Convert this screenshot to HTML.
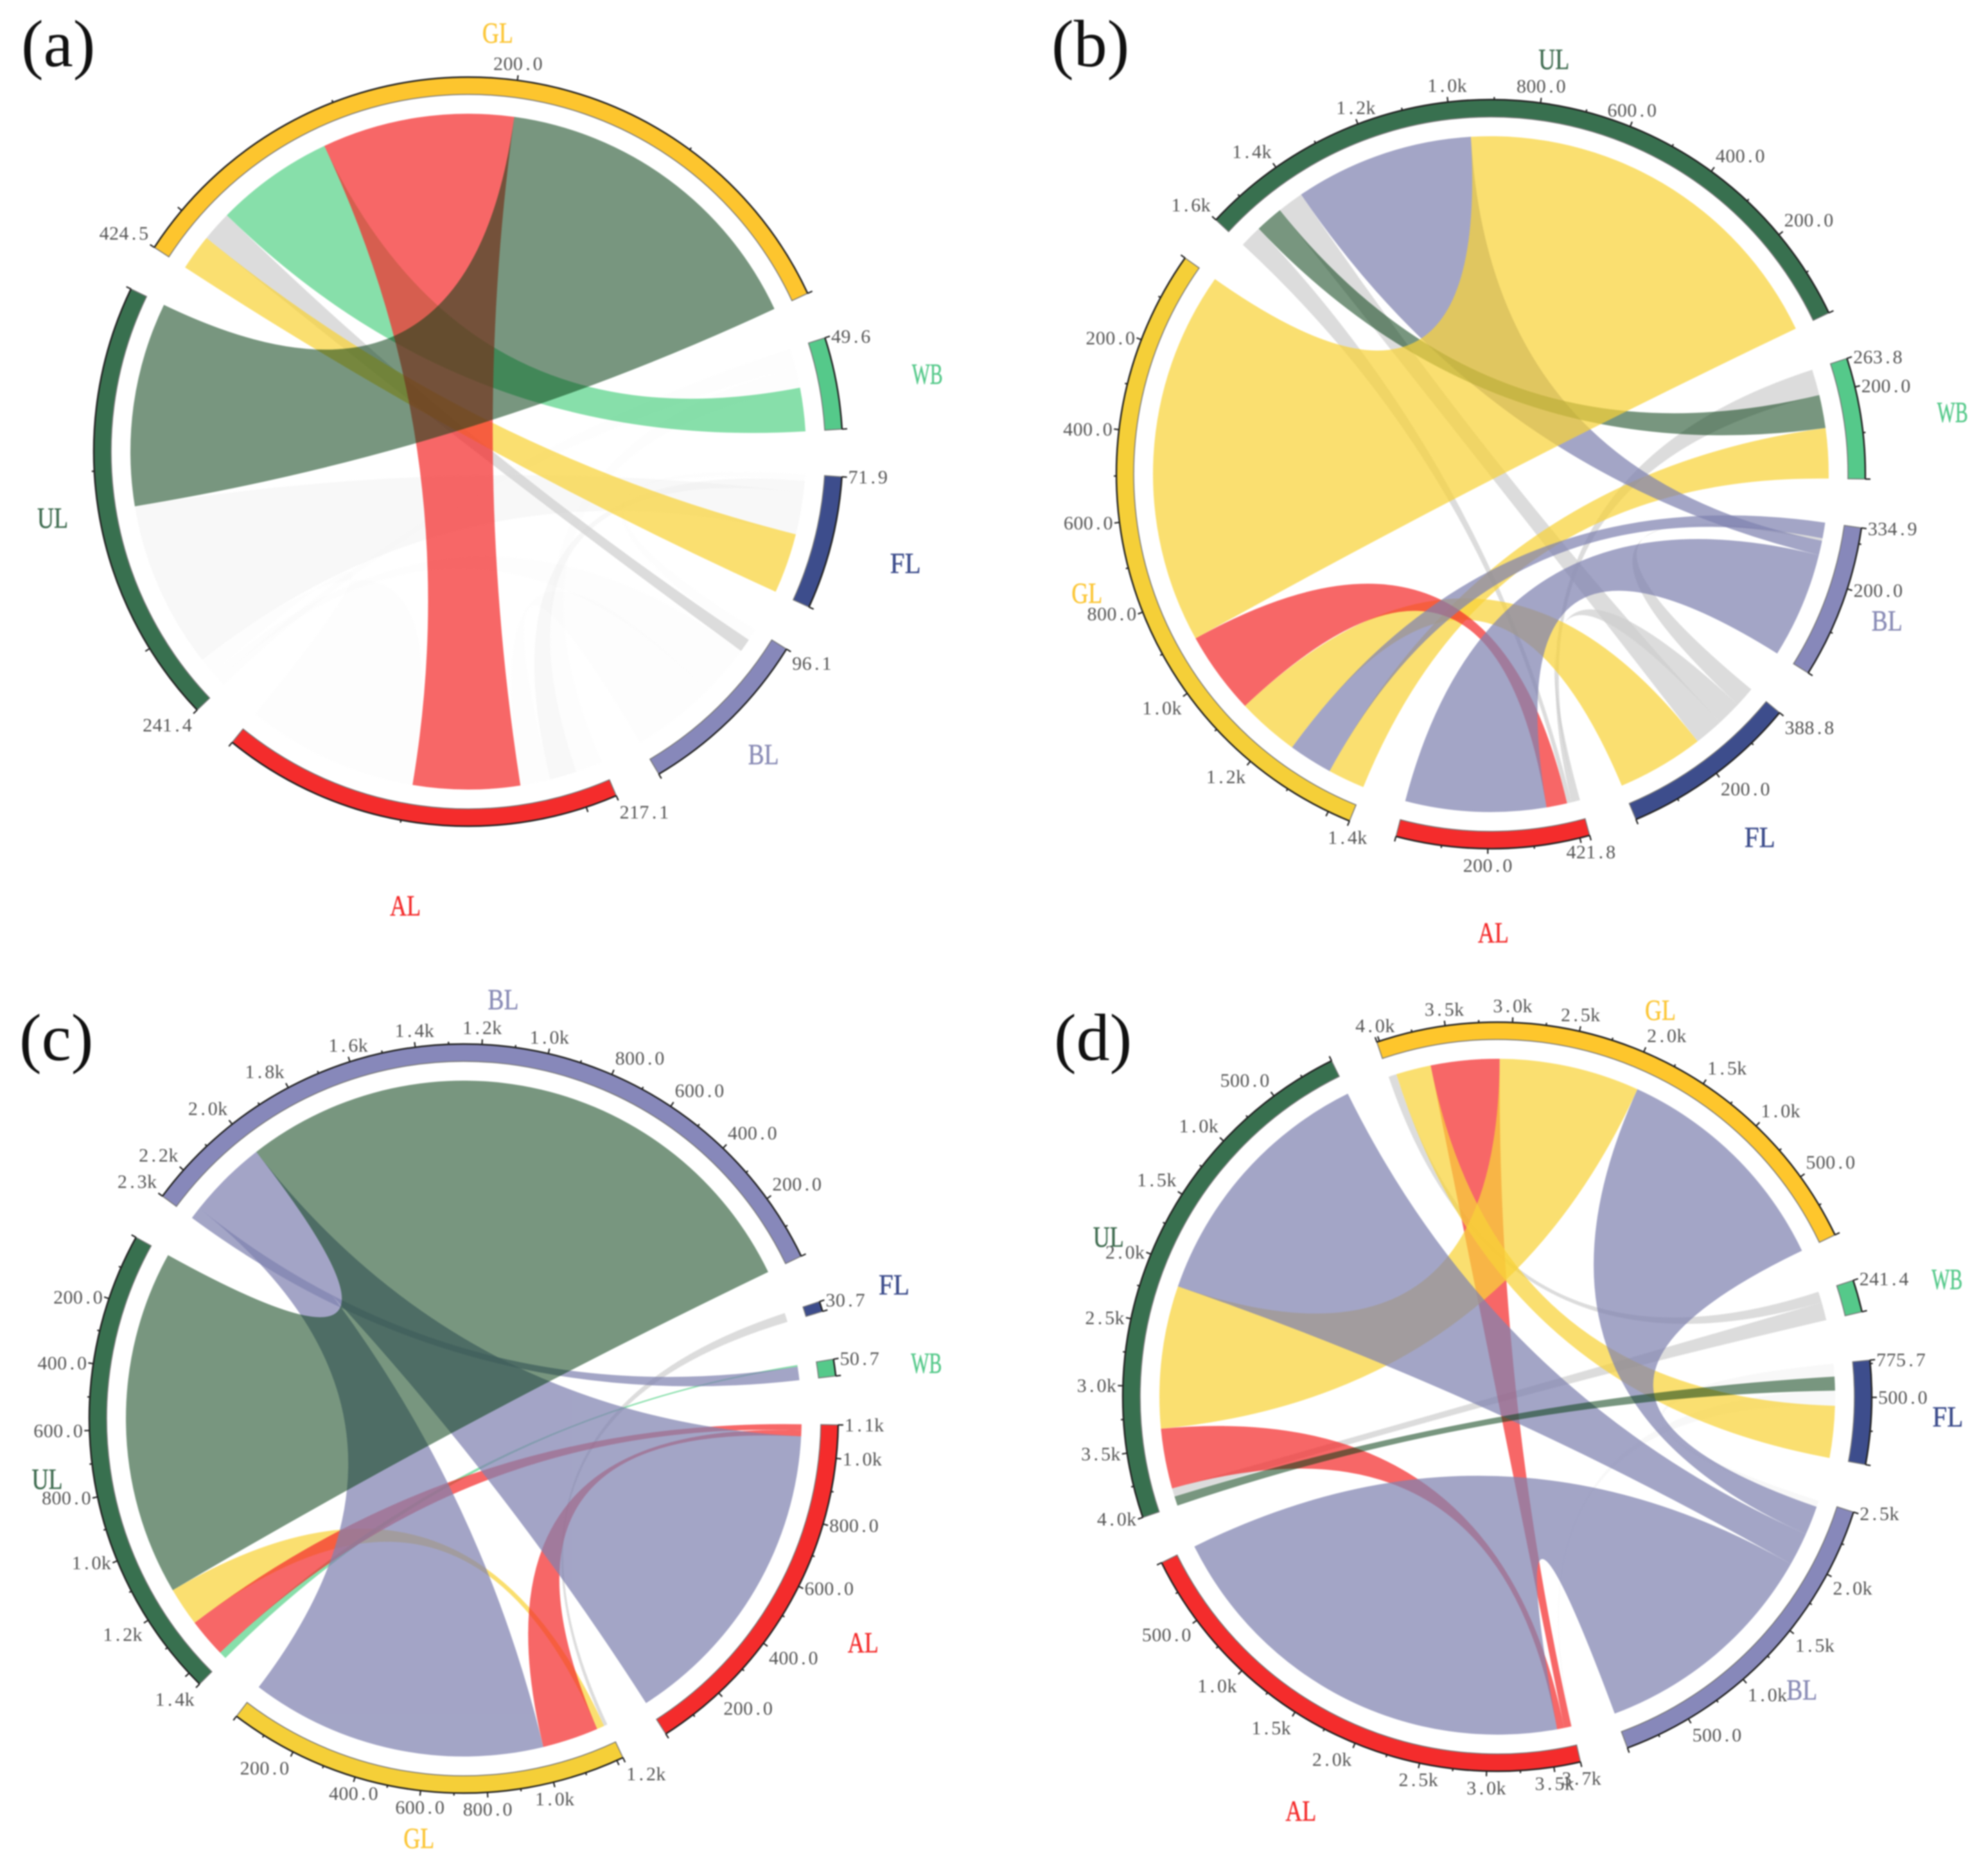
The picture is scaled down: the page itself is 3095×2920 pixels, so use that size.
<!DOCTYPE html>
<html lang="en">
<head>
<meta charset="utf-8">
<title>Chord diagrams of land-use transitions</title>
<style>
html,body{margin:0;padding:0;background:#fff;width:3095px;height:2920px;overflow:hidden}
svg{display:block;filter:blur(1px)}
text{font-family:"Liberation Serif","Noto Serif CJK SC",serif}
</style>
</head>
<body>
<svg id="figure" xmlns="http://www.w3.org/2000/svg" width="3095" height="2920" viewBox="0 0 3095 2920"></svg>
<script>
// ---------- Panel (a) data ----------
const aSectors = ['GL','UL','AL','BL','FL','WB'];
const aTotals = [424.5,241.4,217.1,96.1,71.9,49.6];
const aLinks = {
  GL:[['UL',199],['AL',115],['WB',71],['BL',18],['FL',21.5]],
  UL:[['GL',122],['FL',100],['AL',10],['BL',5],['WB',4.4]],
  AL:[['UL',103],['GL',64],['BL',18],['FL',16],['WB',16.1]],
  BL:[['AL',50],['UL',31],['GL',8],['FL',7.1]],
  FL:[['GL',36],['UL',25],['AL',7],['BL',3.9]],
  WB:[['GL',26],['AL',12],['UL',11.6]]
};
const aRibbonColors = {'UL-FL':'faint','UL-AL':'ghost','UL-BL':'ghost','UL-WB':'ghost','AL-BL':'ghost','AL-FL':'faint','AL-WB':'ghost','BL-FL':'ghost','GL-BL':'gray','GL-WB':'WB','GL-FL':'GL','GL-AL':'AL','GL-UL':'UL'};

// ---------- Panel (b) data ----------
const bSectors = ['UL','GL','AL','FL','BL','WB'];
const bTotals = [1572,1450,421.8,388.8,334.9,263.8];
const bLinks = {
  UL:[['GL',955],['BL',433],['FL',63],['WB',67],['AL',54]],
  GL:[['UL',905],['AL',200],['FL',150],['BL',106],['WB',89]],
  AL:[['BL',340],['GL',50],['UL',11],['WB',12],['FL',8.8]],
  FL:[['GL',210],['UL',70],['AL',60],['BL',48.8]],
  BL:[['AL',256],['UL',35],['FL',6],['GL',37.9]],
  WB:[['GL',121],['UL',80],['AL',62.8]]
};
const bRibbonColors = {'UL-FL':'gray','UL-AL':'gray','AL-WB':'gray','AL-FL':'gray','FL-BL':'gray','GL-FL':'GL','GL-WB':'GL','GL-AL':'AL','AL-BL':'BL','GL-BL':'BL','UL-BL':'BL','UL-WB':'UL','GL-UL':'GL'};

// ---------- Panel (c) data ----------
const cSectors = ['BL','UL','GL','AL','WB','FL'];
const cTotals = [2300,1445,1220,1100,50.7,30.7];
const cLinks = {
  BL:[['UL',1994],['AL',150],['overlap',-34],['GL',150],['WB',40]],
  UL:[['BL',1160],['GL',130],['AL',130],['WB',25]],
  GL:[['BL',995],['AL',188],['UL',25],['FL',12]],
  AL:[['BL',1060],['GL',20],['UL',20]],
  WB:[['BL',45],['UL',5.7]],
  FL:[['GL',30.7]]
};
const cRibbonColors = {'GL-FL':'gray','UL-GL':'GL','UL-WB':'WB','GL-AL':'AL','UL-AL':'AL','BL-GL':'BL','BL-AL':'BL','BL-WB':'BL','BL-UL':'UL'};
const cMergedRibbons = ['BL-GL','BL-AL'];

// ---------- Panel (d) data ----------
const dSectors = ['GL','UL','AL','BL','FL','WB'];
const dTotals = [4020,3990,3700,2500,775.7,241.4];
const dLinks = {
  GL:[['BL',1928],['UL',1165],['AL',570],['FL',290],['WB',67]],
  UL:[['BL',2160],['GL',1184],['AL',498],['WB',70],['FL',78]],
  AL:[['BL',3572],['UL',60],['GL',60],['FL',8]],
  BL:[['AL',1933],['UL',275],['GL',240],['FL',52]],
  FL:[['GL',430],['AL',125],['UL',115],['BL',105.7]],
  WB:[['UL',150],['GL',91.4]]
};
const dRibbonColors = {'GL-WB':'gray','UL-WB':'gray','AL-FL':'faint','BL-FL':'faint','UL-AL':'AL','GL-AL':'AL','GL-UL':'GL','GL-FL':'GL','AL-BL':'BL','GL-BL':'BL','UL-BL':'BL','UL-FL':'UL'};

// ---------- Styling and layout configuration ----------
const ringColor = {GL:'#f8cd35',UL:'#38704f',AL:'#f42c2c',BL:'#8788ba',FL:'#3d4d8c',WB:'#55c98a'};
const labelColor = {GL:'#fcc636',UL:'#3e6b4f',AL:'#f42c2c',BL:'#8a8cb6',FL:'#3d4d8c',WB:'#55c98a'};
const ribbonFill = {
  GL:['#f8d339',0.72],UL:['#0a4016',0.55],AL:['#f42c2c',0.72],BL:['#8082b0',0.72],WB:['#59d389',0.72],
  gray:['#cfcfcf',0.72],faint:['#dedede',0.22],ghost:['#eeeeee',0.1]
};
const labelRadius = {GL:655,UL:655,BL:657,AL:712,FL:702,WB:727};
const labelDrop = {GL:17,UL:17,BL:17,AL:17,FL:17,WB:28};
const panels = [
  {id:'a',cx:729,cy:703,start:65,gap:7.3,major:200,minor:100,sectors:aSectors,totals:aTotals,links:aLinks,ribbons:aRibbonColors,merged:[],glRing:'#fdc52e',lx:33,ly:103},
  {id:'b',cx:2321,cy:738,start:64.5,gap:7.5,major:200,minor:100,sectors:bSectors,totals:bTotals,links:bLinks,ribbons:bRibbonColors,merged:[],glRing:'#f5cf38',lx:1637,ly:103},
  {id:'c',cx:722,cy:2208,start:64.3,gap:7.5,major:200,minor:100,sectors:cSectors,totals:cTotals,links:cLinks,ribbons:cRibbonColors,merged:cMergedRibbons,glRing:'#f5cf38',lx:30,ly:1650},
  {id:'d',cx:2331,cy:2174,start:64.4,gap:7.5,major:500,minor:250,sectors:dSectors,totals:dTotals,links:dLinks,ribbons:dRibbonColors,merged:[],glRing:'#fec62c',lx:1641,ly:1650}
];
const ringOuter = 583, ringInner = 556, ribbonRadius = 526;
const charCell = 15.4;

// ---------- Drawing ----------
const NS = 'http://www.w3.org/2000/svg';
const root = document.getElementById('figure');
function make(tag, attrs, parent){
  const el = document.createElementNS(NS, tag);
  for (const k in attrs) el.setAttribute(k, attrs[k]);
  parent.appendChild(el);
  return el;
}
function polar(p, r, deg){
  const t = deg * Math.PI / 180;
  return [p.cx + r * Math.sin(t), p.cy - r * Math.cos(t)];
}
function fmt(v){ return v >= 1000 ? (v / 1000).toFixed(1) + 'k' : v.toFixed(1); }
function f(n){ return n.toFixed(2); }
function arcTo(p, r, from, to, sweep){
  const e = polar(p, r, to);
  const large = Math.abs(from - to) > 180 ? 1 : 0;
  return 'A' + r + ' ' + r + ' 0 ' + large + ' ' + sweep + ' ' + f(e[0]) + ' ' + f(e[1]);
}
function placeTick(p, g, deg, value, isMajorTick){
  const len = isMajorTick ? 8 : 4;
  const s = polar(p, ringOuter, deg);
  const e = polar(p, ringOuter + len, deg);
  const tick = make('line', {x1:f(s[0]),y1:f(s[1]),x2:f(e[0]),y2:f(e[1]),stroke:'#222','stroke-width':2.2}, g);
  
  
  if (value === null) return;
  const t = deg * Math.PI / 180, sn = Math.sin(t), cs = Math.cos(t);
  const str = fmt(value);
  const width = str.length * charCell;
  let x0;
  if (sn > 0.378) x0 = e[0] + 2;
  else if (sn < -0.378) x0 = e[0] - 2 - width;
  else x0 = e[0] - width / 2;
  let base;
  if (cs > 0.45) base = e[1] - 8;
  else if (cs < -0.45) base = e[1] + 28;
  else base = e[1] + 10;
  const xs = [];
  for (let i = 0; i < str.length; i++){
    xs.push(f(x0 + i * charCell + (str[i] === '.' ? 4 : 0)));
  }
  const label = make('text', {x:xs.join(' '),y:f(base),'font-size':30,fill:'#555'}, g);
  label.textContent = str;
  
  
}
function drawPanel(p){
  const group = make('g', {}, root);
  
  

  const title = make('text', {x:p.lx,y:p.ly,'font-size':104,fill:'#111'}, group);
  title.textContent = '(' + p.id + ')';
  
  

  const sum = p.totals.reduce(function(a, b){ return a + b; }, 0);
  const scale = (360 - p.sectors.length * p.gap) / sum;
  const arcs = {}, slots = {};
  let angle = p.start;
  p.sectors.forEach(function(name, i){
    const a0 = angle, a1 = a0 - p.totals[i] * scale;
    arcs[name] = {a0:a0, a1:a1, total:p.totals[i]};
    slots[name] = {};
    let c = a0;
    (p.links[name] || []).forEach(function(link){
      const next = c - link[1] * scale;
      if (link[1] > 0) slots[name][link[0]] = [c, next];
      c = next;
    });
    angle = a1 - p.gap;
  });

  // ribbons, in z-order of the colour table
  const ribbonLayer = make('g', {}, group);
  
  
  let mergedLayer = null;
  Object.keys(p.ribbons).forEach(function(key){
    const pair = key.split('-');
    const A = slots[pair[0]][pair[1]], B = slots[pair[1]][pair[0]];
    if (!A || !B) return;
    const s0 = polar(p, ribbonRadius, A[0]), t0 = polar(p, ribbonRadius, B[0]);
    const c = f(p.cx) + ' ' + f(p.cy);
    const d = 'M' + f(s0[0]) + ' ' + f(s0[1]) + arcTo(p, ribbonRadius, A[0], A[1], 0) +
      'Q' + c + ' ' + f(t0[0]) + ' ' + f(t0[1]) + arcTo(p, ribbonRadius, B[0], B[1], 0) +
      'Q' + c + ' ' + f(s0[0]) + ' ' + f(s0[1]) + 'Z';
    const style = ribbonFill[p.ribbons[key]];
    let ribbon;
    if (p.merged.indexOf(key) >= 0){
      if (!mergedLayer){
        mergedLayer = make('g', {opacity:style[1]}, ribbonLayer);
        
        
      }
      ribbon = make('path', {d:d, fill:style[0]}, mergedLayer);
    } else {
      ribbon = make('path', {d:d, fill:style[0], 'fill-opacity':style[1]}, ribbonLayer);
    }
    
    
  });

  // sector rings, ticks and labels
  p.sectors.forEach(function(name){
    const a = arcs[name];
    const g = make('g', {}, group);
    
    
    const o0 = polar(p, ringOuter, a.a0), i1 = polar(p, ringInner, a.a1);
    const d = 'M' + f(o0[0]) + ' ' + f(o0[1]) + arcTo(p, ringOuter, a.a0, a.a1, 0) +
      'L' + f(i1[0]) + ' ' + f(i1[1]) + arcTo(p, ringInner, a.a1, a.a0, 1) + 'Z';
    const fillColor = name === 'GL' ? p.glRing : ringColor[name];
    const ring = make('path', {d:d, fill:fillColor, stroke:'#777', 'stroke-width':1.5}, g);
    
    
    const edge = make('path', {d:'M' + f(o0[0]) + ' ' + f(o0[1]) + arcTo(p, ringOuter, a.a0, a.a1, 0), fill:'none', stroke:'#222', 'stroke-width':2.5}, g);
    
    

    placeTick(p, g, a.a0, null, true);
    for (let v = p.minor; v < a.total; v += p.minor){
      const isMajor = v % p.major === 0;
      const tooClose = a.total - v < 0.3 * p.major;
      placeTick(p, g, a.a0 - v * scale, isMajor && !tooClose ? v : null, isMajor);
    }
    placeTick(p, g, a.a1, a.total, true);

    const mid = (a.a0 + a.a1) / 2;
    const lp = polar(p, labelRadius[name], mid);
    const lab = make('text', {x:f(lp[0]),y:f(lp[1] + labelDrop[name]),'text-anchor':'middle','font-size':45,fill:labelColor[name],stroke:labelColor[name],'stroke-width':0.5,textLength:48,lengthAdjust:'spacingAndGlyphs'}, g);
    lab.textContent = name;
    
    
  });
}
panels.forEach(drawPanel);
</script>
</body>
</html>
